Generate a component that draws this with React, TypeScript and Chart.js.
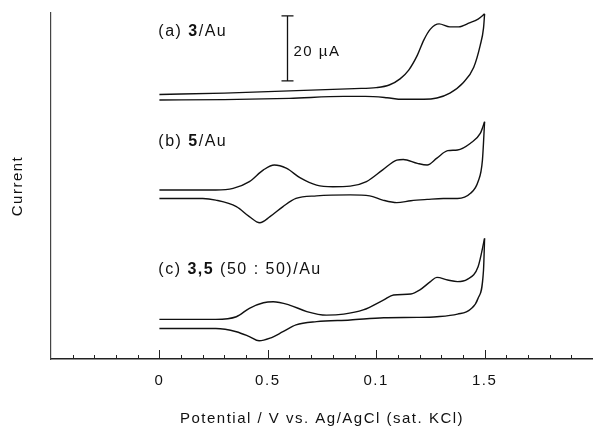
import React, { useEffect, useRef } from 'react';
import { Chart, registerables } from 'chart.js';

Chart.register(...registerables);

// Potential (V) and current (µA, traces offset vertically as plotted)
const aFwdV = [0, 0.3, 0.6, 0.9, 1.0, 1.06, 1.11, 1.15, 1.19, 1.22, 1.25, 1.29, 1.34, 1.38, 1.43, 1.47, 1.5];
const aFwdI = [81.4, 81.8, 82.5, 83.2, 83.5, 84.3, 86.2, 88.9, 93.5, 98.2, 101.5, 103.1, 102.2, 102.2, 103.4, 104.6, 106.2];
const aRevV = [0, 0.3, 0.6, 0.85, 0.95, 1.05, 1.12, 1.22, 1.28, 1.34, 1.4, 1.45, 1.48, 1.495, 1.5];
const aRevI = [79.7, 79.8, 80.2, 80.8, 80.8, 80.4, 79.9, 79.9, 80.3, 81.8, 84.9, 89.8, 96.6, 101.8, 106.2];

const bFwdV = [0, 0.26, 0.34, 0.415, 0.48, 0.53, 0.585, 0.65, 0.725, 0.8, 0.88, 0.955, 1.03, 1.095, 1.125, 1.19, 1.235, 1.28, 1.33, 1.375, 1.435, 1.48, 1.5];
const bFwdI = [52.0, 52.0, 52.5, 54.6, 58.2, 59.7, 58.7, 55.7, 53.5, 53.0, 53.2, 54.6, 58.2, 61.2, 61.4, 60.2, 59.7, 61.8, 64.1, 64.3, 66.4, 69.4, 73.0];
const bRevV = [0, 0.2, 0.26, 0.355, 0.415, 0.463, 0.51, 0.57, 0.63, 0.725, 0.88, 0.97, 1.03, 1.095, 1.16, 1.235, 1.31, 1.375, 1.435, 1.47, 1.49, 1.5];
const bRevI = [49.4, 49.4, 48.9, 46.9, 43.8, 41.9, 43.8, 46.9, 49.4, 50.2, 50.5, 50.2, 48.9, 48.1, 48.7, 49.1, 49.4, 49.4, 51.0, 54.6, 61.2, 73.0];

const cFwdV = [0, 0.26, 0.355, 0.415, 0.48, 0.525, 0.6, 0.68, 0.77, 0.85, 0.94, 1.035, 1.08, 1.16, 1.2, 1.25, 1.28, 1.33, 1.375, 1.42, 1.47, 1.5];
const cFwdI = [12.2, 12.2, 13.0, 15.6, 17.3, 17.6, 16.6, 14.6, 13.5, 13.8, 15.1, 18.2, 19.7, 20.0, 21.2, 23.8, 25.1, 24.3, 23.8, 24.5, 28.4, 37.1];
const cRevV = [0, 0.26, 0.355, 0.415, 0.46, 0.51, 0.57, 0.63, 0.725, 0.88, 1.035, 1.19, 1.28, 1.375, 1.435, 1.47, 1.495, 1.5];
const cRevI = [9.4, 9.4, 8.4, 6.9, 5.6, 6.4, 8.4, 10.5, 11.5, 12.0, 12.7, 12.8, 13.0, 13.8, 15.3, 18.7, 27.4, 37.1];

// Axis tick labels (as printed in the original figure)
const tickValues = [0, 0.5, 1.0, 1.5];
const tickLabels = ['0', '0.5', '0.1', '1.5'];

// Trace labels: [prefix, bold part, suffix, label value position]
const traceLabels: [string, string, string, number][] = [
  ['(a) ', '3', '/Au', 100.6],
  ['(b) ', '5', '/Au', 67.0],
  ['(c) ', '3,5', ' (50 : 50)/Au', 27.4],
];
const scaleBarV = 0.59;
const scaleBarFrom = 85.6;
const scaleBarSize = 20; // µA
const scaleBarText = '20 µA';

const X_MIN = -0.5;
const X_MAX = 2.0;
const Y_MIN = 0;
const Y_MAX = 106.46;

const FONT = '"Liberation Sans", Arial, Helvetica, sans-serif';
const INK = '#111';
const SPACING = '1.5px';

const W = 593;
const H = 430;

function pts(xs: number[], ys: number[]) {
  return xs.map((x, i) => ({ x, y: ys[i] }));
}

function isMajor(v: number) {
  return tickValues.some((t) => Math.abs(t - v) < 1e-6);
}

const spacing = {
  id: 'spacing',
  beforeDraw(chart: any) {
    chart.ctx.letterSpacing = SPACING;
  },
};

const inwardTicks = {
  id: 'inwardTicks',
  afterDraw(chart: any) {
    const s = chart.scales.x;
    const { ctx, chartArea } = chart;
    ctx.save();
    ctx.strokeStyle = '#222';
    ctx.lineWidth = 1;
    s.ticks.forEach((t: any) => {
      if (t.value <= X_MIN + 1e-6) return;
      const px = Math.round(s.getPixelForValue(t.value)) + 0.5;
      const len = isMajor(t.value) ? 9 : 4;
      ctx.beginPath();
      ctx.moveTo(px, chartArea.bottom);
      ctx.lineTo(px, chartArea.bottom - len);
      ctx.stroke();
    });
    ctx.restore();
  },
};

const annotations = {
  id: 'annotations',
  afterDatasetsDraw(chart: any) {
    const { ctx } = chart;
    const xs = chart.scales.x;
    const ys = chart.scales.y;
    ctx.save();
    ctx.letterSpacing = SPACING;
    ctx.fillStyle = INK;
    ctx.textBaseline = 'middle';
    ctx.textAlign = 'left';
    const x0 = xs.getPixelForValue(-0.005);
    traceLabels.forEach(([pre, bold, post, yv]) => {
      const y = ys.getPixelForValue(yv);
      let x = x0;
      ctx.font = `16px ${FONT}`;
      ctx.fillText(pre, x, y);
      x += ctx.measureText(pre).width;
      ctx.font = `bold 16px ${FONT}`;
      ctx.fillText(bold, x, y);
      x += ctx.measureText(bold).width;
      ctx.font = `16px ${FONT}`;
      ctx.fillText(post, x, y);
    });
    // 20 µA scale bar
    const bx = Math.round(xs.getPixelForValue(scaleBarV)) + 0.5;
    const by1 = ys.getPixelForValue(scaleBarFrom);
    const by2 = ys.getPixelForValue(scaleBarFrom + scaleBarSize);
    ctx.strokeStyle = INK;
    ctx.lineWidth = 1.3;
    ctx.beginPath();
    ctx.moveTo(bx, by1);
    ctx.lineTo(bx, by2);
    ctx.moveTo(bx - 6, by1);
    ctx.lineTo(bx + 6, by1);
    ctx.moveTo(bx - 6, by2);
    ctx.lineTo(bx + 6, by2);
    ctx.stroke();
    ctx.font = `15px ${FONT}`;
    ctx.fillText(scaleBarText, bx + 6, ys.getPixelForValue(scaleBarFrom + scaleBarSize * 0.45));
    ctx.restore();
  },
};

export default function App() {
  const ref = useRef<HTMLCanvasElement | null>(null);

  useEffect(() => {
    if (!ref.current) return;
    const line = (xs: number[], ys: number[]) => ({
      data: pts(xs, ys),
      borderColor: INK,
      borderWidth: 1.4,
      pointRadius: 0,
      fill: false,
      cubicInterpolationMode: 'monotone' as const,
    });
    const chart = new Chart(ref.current, {
      type: 'line',
      data: {
        datasets: [
          line(aFwdV, aFwdI),
          line(aRevV, aRevI),
          line(bFwdV, bFwdI),
          line(bRevV, bRevI),
          line(cFwdV, cFwdI),
          line(cRevV, cRevI),
        ],
      },
      options: {
        animation: false,
        responsive: false,
        maintainAspectRatio: false,
        events: [],
        layout: { padding: { top: 13, right: 0, bottom: 0, left: 0 } },
        plugins: { legend: { display: false }, tooltip: { enabled: false } },
        scales: {
          x: {
            type: 'linear',
            min: X_MIN,
            max: X_MAX,
            grid: { display: false, drawTicks: true, tickLength: 12.5, tickColor: 'rgba(0,0,0,0)' },
            border: { display: true, color: '#222', width: 1.5 },
            ticks: {
              stepSize: 0.1,
              autoSkip: false,
              maxRotation: 0,
              minRotation: 0,
              padding: 0,
              color: INK,
              font: { family: FONT, size: 15 },
              callback: (v: any) => {
                const i = tickValues.findIndex((t) => Math.abs(t - Number(v)) < 1e-6);
                return i >= 0 ? tickLabels[i] : '';
              },
            },
            title: {
              display: true,
              text: 'Potential / V vs. Ag/AgCl (sat. KCl)',
              color: INK,
              font: { family: FONT, size: 15 },
              padding: { top: 20.5, bottom: 2 },
            },
          },
          y: {
            type: 'linear',
            min: Y_MIN,
            max: Y_MAX,
            grid: { display: false, drawTicks: false },
            border: { display: true, color: '#444', width: 1.2 },
            ticks: { display: false },
            title: {
              display: true,
              text: 'Current',
              color: INK,
              font: { family: FONT, size: 15 },
              padding: { top: 9.3, bottom: 23.7 },
            },
          },
        },
      },
      plugins: [spacing, inwardTicks, annotations],
    });
    return () => chart.destroy();
  }, []);

  return (
    <div style={{ position: 'fixed', left: 0, top: 0, width: W, height: H, background: '#fff' }}>
      <canvas ref={ref} width={W} height={H} style={{ width: `${W}px`, height: `${H}px` }} />
    </div>
  );
}
